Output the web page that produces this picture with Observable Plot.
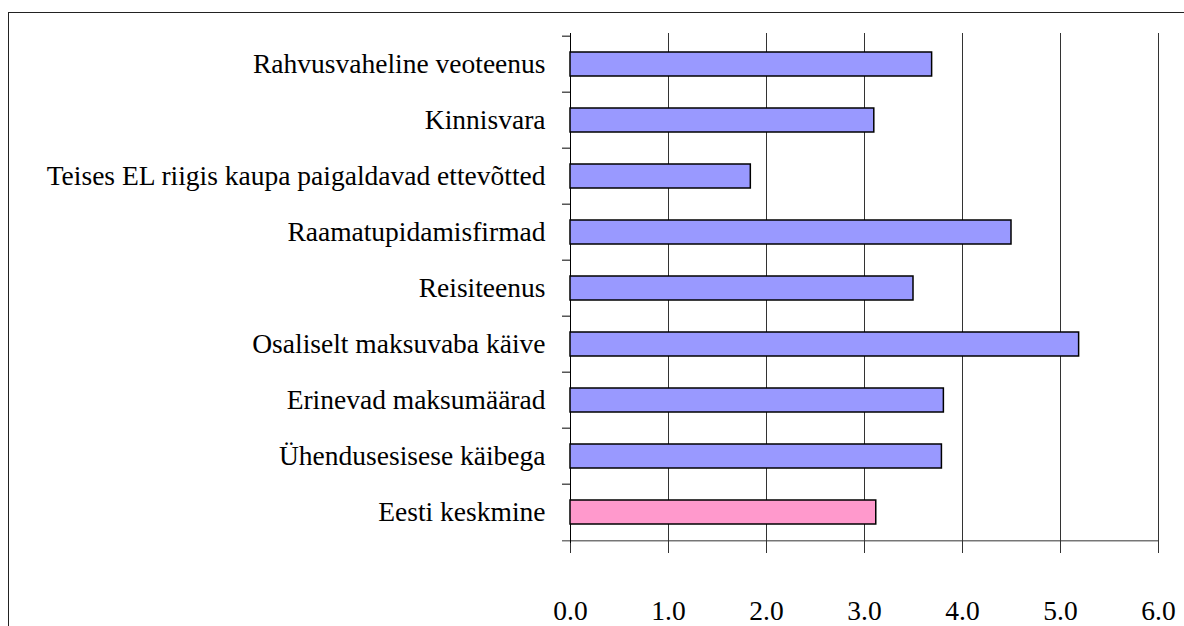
<!DOCTYPE html>
<html><head><meta charset="utf-8">
<script src="https://cdn.jsdelivr.net/npm/d3@7"></script>
<script src="https://cdn.jsdelivr.net/npm/@observablehq/plot@0.6"></script>
<style>
body{margin:0;background:#fff;}
#wrap{position:relative;width:1184px;height:626px;overflow:hidden;}
#frame{position:absolute;left:8px;top:12px;width:1300px;height:800px;border-left:1.5px solid #222;border-top:1.5px solid #222;}
#chart{position:absolute;left:0;top:0;}
#chart svg, #chart svg text{font-family:"Liberation Serif","Times New Roman",Tinos,"DejaVu Serif",serif !important;}
</style></head><body>
<div id="wrap"><div id="frame"></div><div id="chart"></div></div>
<script>
const categories = [
  "Rahvusvaheline veoteenus",
  "Kinnisvara",
  "Teises EL riigis kaupa paigaldavad ettevõtted",
  "Raamatupidamisfirmad",
  "Reisiteenus",
  "Osaliselt maksuvaba käive",
  "Erinevad maksumäärad",
  "Ühendusesisese käibega",
  "Eesti keskmine"
];
const values = [3.69, 3.10, 1.84, 4.50, 3.50, 5.19, 3.81, 3.79, 3.12];
const barColors = ["#9999FF","#9999FF","#9999FF","#9999FF","#9999FF","#9999FF","#9999FF","#9999FF","#FF99CC"];
const xTicks = [0, 1, 2, 3, 4, 5, 6];

const W = 1184, H = 626, mt = 33, mb = 83, ml = 570, mr = 26;
const step = (H - mt - mb) / categories.length;
const data = categories.map((c, i) => ({category: c, value: values[i], color: barColors[i]}));

const chart = Plot.plot({
  width: W, height: H,
  marginTop: mt, marginBottom: mb, marginLeft: ml, marginRight: mr,
  style: {fontSize: "27.5px", color: "#000", background: "transparent", overflow: "visible"},
  x: {domain: [0, 6]},
  y: {domain: categories, paddingInner: 0.58, paddingOuter: 0.29},
  marks: [
    Plot.gridX(xTicks.slice(1), {stroke: "#333", strokeOpacity: 1, strokeWidth: 1}),
    Plot.ruleY(categories, {y: d => d, x1: 0, x2: 0, insetLeft: -8, dy: -step / 2, stroke: "#000"}),
    Plot.ruleY([categories[categories.length - 1]], {y: d => d, dy: step / 2, insetLeft: -8, stroke: "#333"}),
    Plot.ruleX([0], {stroke: "#000"}),
    Plot.barX(data, {x: "value", y: "category", fill: "color", stroke: "#000", strokeWidth: 1.5}),
    Plot.axisY({tickSize: 0, tickPadding: 25, label: null}),
    Plot.axisX({ticks: xTicks, tickFormat: d3.format(".1f"), tickSize: 10, tickPadding: 47, label: null, stroke: "#333"})
  ]
});
document.getElementById("chart").appendChild(chart);
</script>
</body></html>
